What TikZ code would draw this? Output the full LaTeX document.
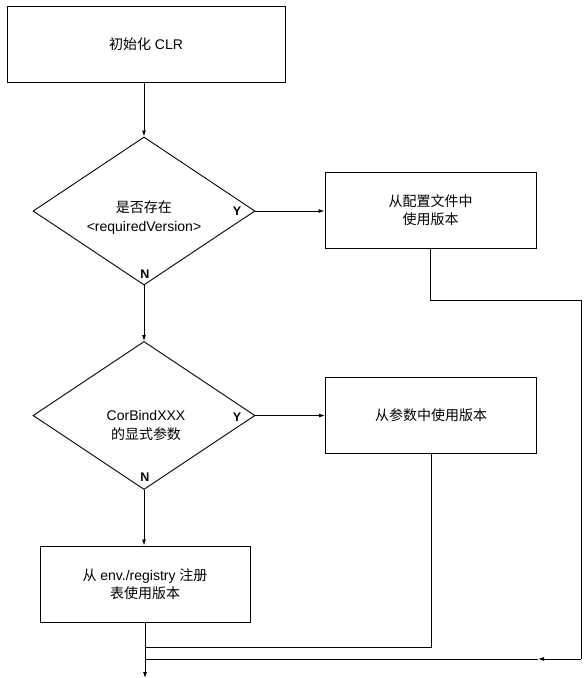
\documentclass[tikz,border=0pt]{standalone}
\usepackage{fontspec}
\setmainfont{Liberation Sans}
\newfontfamily\cjk{Noto Sans CJK SC}
\usetikzlibrary{shapes.geometric,arrows.meta}
\begin{document}
\begin{tikzpicture}[x=1pt,y=-1pt,
  procbox/.style={draw,line width=1pt,inner sep=0pt,minimum height=76pt,
    font=\fontsize{14}{18}\selectfont,align=center},
  decision/.style={draw,diamond,line width=0.9pt,inner sep=0pt,
    minimum width=222pt,minimum height=148pt},
  dtext/.style={font=\fontsize{14}{19}\selectfont,align=center,inner sep=0pt},
  yn/.style={font=\fontsize{12.5}{14}\selectfont\bfseries,inner sep=0pt},
  flow/.style={line width=0.9pt,-{Latex[length=6pt,width=4pt]}},
  conn/.style={line width=0.9pt}]
\useasboundingbox (0,0) rectangle (586,678);

% boxes
\node[procbox,minimum width=278pt] (b1) at (146,44) {{\cjk 初始化} CLR};
\node[procbox,minimum width=211pt] (b2) at (430.5,210) {{\cjk 从配置文件中}\\{\cjk 使用版本}};
\node[procbox,minimum width=211pt] (b3) at (431,415) {{\cjk 从参数中使用版本}};
\node[procbox,minimum width=210pt] (b4) at (145,584) {{\cjk 从} env./registry {\cjk 注册}\\{\cjk 表使用版本}};

% decisions
\node[decision] (d1) at (144,211) {};
\node[dtext] (d1t) at (144,218) {{\cjk 是否存在}\\<requiredVersion>};
\node[yn] (y1) at (237,211) {Y};
\node[yn] (n1) at (145,274) {N};

\node[decision] (d2) at (144,415.5) {};
\node[dtext] (d2t) at (146,426) {CorBindXXX\\{\cjk 的显式参数}};
\node[yn] (y2) at (237,417) {Y};
\node[yn] (n2) at (145,477) {N};

% routing points
\coordinate (r1) at (581,300);
\coordinate (r2) at (581,659);
\coordinate (m) at (538,659);
\coordinate (j2) at (145,659);
\coordinate (j1) at (145,647);
\coordinate (end) at (145,678);

% connectors
\draw[flow] (d1.north |- b1.south) -- (d1.north);
\draw[flow] (d1.east) -- (b2.west |- d1.east);
\draw[flow] (d1.south) -- (d2.north);
\draw[flow] (d2.east) -- (b3.west |- d2.east);
\draw[flow] (d2.south) -- (d2.south |- b4.north);
\draw[conn] (b2.south) |- (r1) -- (r2);
\draw[flow] (r2) -- (m);
\draw[conn] (m) -- (j2);
\draw[conn] (b3.south) |- (j1);
\draw[flow] (b4.south) -- (end);
\end{tikzpicture}
\end{document}
